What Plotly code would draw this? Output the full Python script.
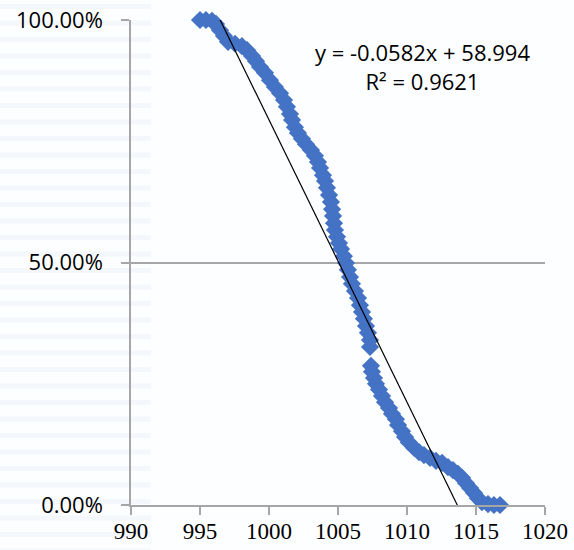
import plotly.graph_objects as go

# Sorted pressure readings and their exceedance fraction
pressure = [
    995.0, 995.43, 995.87, 996.16, 996.45, 996.74, 997.03, 997.54, 998.04, 998.41,
    998.77, 999.06, 999.35, 999.71, 1000.07, 1000.43, 1000.80, 1001.09, 1001.30, 1001.52,
    1001.67, 1001.88, 1002.10, 1002.39, 1002.68, 1003.04, 1003.33, 1003.55, 1003.70, 1003.91,
    1004.06, 1004.20, 1004.35, 1004.49, 1004.57, 1004.64, 1004.71, 1004.78, 1004.93, 1005.07,
    1005.22, 1005.43, 1005.58, 1005.72, 1005.87, 1006.01, 1006.23, 1006.45, 1006.59, 1006.74,
    1006.88, 1007.03, 1007.17, 1007.32, 1007.32, 1007.39, 1007.46, 1007.61, 1007.75, 1007.97,
    1008.19, 1008.41, 1008.70, 1008.91, 1009.20, 1009.35, 1009.64, 1009.86, 1010.14, 1010.51,
    1010.87, 1011.23, 1011.67, 1012.10, 1012.54, 1012.97, 1013.33, 1013.70, 1013.99, 1014.28,
    1014.57, 1014.86, 1015.14, 1015.43, 1015.87, 1016.30, 1016.74,
]
fraction = [
    1.000, 1.000, 0.998, 0.992, 0.979, 0.967, 0.955, 0.951, 0.946, 0.938,
    0.926, 0.915, 0.903, 0.891, 0.876, 0.862, 0.849, 0.835, 0.821, 0.806,
    0.794, 0.779, 0.767, 0.755, 0.744, 0.732, 0.720, 0.707, 0.695, 0.680,
    0.668, 0.654, 0.639, 0.625, 0.610, 0.596, 0.581, 0.567, 0.553, 0.540,
    0.528, 0.513, 0.499, 0.485, 0.470, 0.456, 0.441, 0.427, 0.412, 0.398,
    0.384, 0.369, 0.355, 0.340, 0.326, 0.287, 0.275, 0.262, 0.250, 0.238,
    0.225, 0.212, 0.200, 0.188, 0.177, 0.165, 0.152, 0.140, 0.129, 0.118,
    0.109, 0.103, 0.097, 0.091, 0.087, 0.078, 0.072, 0.064, 0.056, 0.045,
    0.035, 0.025, 0.014, 0.006, 0.002, 0.000, 0.000,
]

# Linear trendline as reported in the equation label
slope = -0.0582
intercept = 58.994
r_squared = 0.9621

x_ticks = [990, 995, 1000, 1005, 1010, 1015, 1020]
y_ticks = [0.0, 0.5, 1.0]

trend_x = [min(pressure), max(pressure)]
trend_y = [slope * v + intercept for v in trend_x]

fig = go.Figure()
fig.add_trace(go.Scatter(
    x=pressure, y=fraction, mode="markers",
    marker=dict(symbol="diamond", size=14, color="#4472C4", line=dict(width=0)),
    showlegend=False, cliponaxis=False,
))
fig.add_trace(go.Scatter(
    x=trend_x, y=trend_y, mode="lines",
    line=dict(color="black", width=1.2),
    showlegend=False,
))

# faint striped backdrop on the left side of the page
stripes = []
py = 4
while py < 550:
    stripes.append(dict(
        type="rect", xref="paper", yref="paper", layer="below",
        x0=-131 / 414, x1=20 / 414,
        y0=(505 - py - 5) / 485, y1=(505 - py) / 485,
        fillcolor="rgba(215,226,242,0.22)", line=dict(width=0),
    ))
    py += 16.5

fig.update_layout(
    width=574, height=550,
    margin=dict(l=131, r=29, t=20, b=45, autoexpand=False),
    paper_bgcolor="#fdfeff", plot_bgcolor="rgba(0,0,0,0)",
    shapes=stripes,
    xaxis=dict(
        range=[990, 1020], tickvals=x_ticks, showgrid=False, zeroline=False,
        automargin=False,
        showline=True, linecolor="#a6a6a6", linewidth=1.5,
        ticks="outside", ticklen=8, tickcolor="#a6a6a6", tickwidth=1.5,
        ticklabelstandoff=-3,
        tickfont=dict(family="Liberation Serif, DejaVu Serif, serif", size=23, color="black"),
    ),
    yaxis=dict(
        range=[0, 1], tickvals=y_ticks, tickformat=".2%",
        automargin=False,
        showgrid=True, gridcolor="#a6a6a6", gridwidth=1.5, zeroline=False,
        showline=True, linecolor="#a6a6a6", linewidth=1.5,
        ticks="outside", ticklen=8, tickcolor="#a6a6a6", tickwidth=1.5,
        ticklabelstandoff=14,
        tickfont=dict(family="Open Sans", size=22, color="black"),
    ),
    annotations=[dict(
        x=1011.1, y=1.0, xref="x", yref="paper", xanchor="center", yanchor="top",
        yshift=-15, showarrow=False, align="center",
        text=f"y = {slope}x + {intercept}<br>R² = {r_squared}",
        font=dict(family="Open Sans", size=22, color="black"),
    )],
)

fig.write_html("out.html")
